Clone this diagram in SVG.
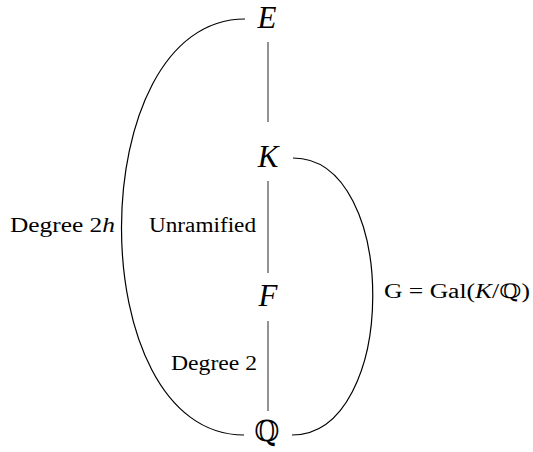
<svg xmlns="http://www.w3.org/2000/svg" width="533" height="452" viewBox="0 0 533 452">
<style>
.node{font-family:"Liberation Serif","DejaVu Serif",serif;font-size:31px;font-style:italic;text-anchor:middle;fill:#000}
.bb{font-family:"DejaVu Serif","Liberation Serif",serif;font-size:29px;font-style:normal;text-anchor:middle;fill:#000}
.lbl{font-family:"Liberation Serif","DejaVu Serif",serif;font-size:20px;fill:#000}
.it{font-style:italic}
.v{stroke:#6e6e6e;stroke-width:1.5;fill:none}
.c{stroke:#000;stroke-width:1.2;fill:none}
</style>
<rect width="533" height="452" fill="#fff"/>
<g id="connectors">
<line class="v" x1="268" y1="42" x2="268" y2="122"/>
<line class="v" x1="268" y1="181" x2="268" y2="273"/>
<line class="v" x1="268" y1="321" x2="268" y2="411"/>
<path class="c" d="M245,19 C81,19 80,435 244,435"/>
<path class="c" d="M293,158 C400,158 399,435 292,435"/>
</g>
<g id="node-E"><text class="node" x="267" y="28">E</text></g>
<g id="node-K"><text class="node" x="268" y="167">K</text></g>
<g id="node-F"><text class="node" x="268" y="306">F</text></g>
<g id="node-Q"><text class="bb" x="267" y="441">ℚ</text></g>
<g id="labels">
<text class="lbl" x="10" y="232" textLength="105" lengthAdjust="spacingAndGlyphs">Degree 2<tspan class="it">h</tspan></text>
<text class="lbl" x="149" y="232" textLength="107" lengthAdjust="spacingAndGlyphs">Unramified</text>
<text class="lbl" x="384" y="298" textLength="146" lengthAdjust="spacingAndGlyphs">G = Gal(<tspan class="it">K</tspan>/ℚ)</text>
<text class="lbl" x="171" y="370" textLength="86" lengthAdjust="spacingAndGlyphs">Degree 2</text>
</g>
</svg>
